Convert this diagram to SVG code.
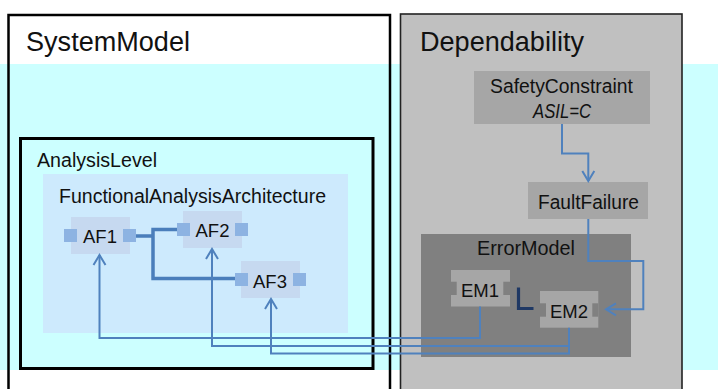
<svg xmlns="http://www.w3.org/2000/svg" width="718" height="389" viewBox="0 0 718 389">
<defs>
<style>
text{font-family:"Liberation Sans",Arial,sans-serif;fill:#111;}
.title{font-size:27.5px;}
.lbl{font-size:19.5px;}
.node{font-size:18.5px;text-anchor:middle;}
.af{fill:#c6d9f0;}
.port{fill:#8db3e2;}
.em{fill:#a6a6a6;}
.notch{fill:#808080;}
.conn{fill:none;stroke:#4f81bd;stroke-width:2;}
.thick{fill:none;stroke:#4a7ebb;stroke-width:3.5;}
.navy{fill:none;stroke:#1f3864;stroke-width:3.2;}
</style>
<marker id="arr" markerUnits="userSpaceOnUse" markerWidth="24" markerHeight="24" viewBox="-12 -12 24 24" refX="0" refY="0" orient="auto">
<path d="M-10,-6 L0,0 L-10,6" fill="none" stroke="#4f81bd" stroke-width="2"/>
</marker>
</defs>
<rect x="0" y="0" width="718" height="389" fill="#ffffff"/>
<rect x="0" y="64" width="718" height="306" fill="#ccffff"/>

<g id="SystemModel">
<rect x="8.5" y="15" width="381.5" height="390" fill="none" stroke="#000" stroke-width="2.5"/>
<text class="title" x="26" y="51" textLength="164" lengthAdjust="spacingAndGlyphs">SystemModel</text>
</g>

<g id="AnalysisLevel">
<rect x="20.5" y="138.5" width="352.5" height="230" fill="#ccffff" stroke="#000" stroke-width="3"/>
<text class="lbl" x="37" y="166.5" textLength="120" lengthAdjust="spacingAndGlyphs">AnalysisLevel</text>
</g>

<g id="FunctionalAnalysisArchitecture">
<rect x="43" y="174" width="305" height="159" fill="#cdeafd"/>
<text class="lbl" x="59" y="202.5" textLength="267" lengthAdjust="spacingAndGlyphs">FunctionalAnalysisArchitecture</text>
</g>

<g id="AF1">
<rect class="af" x="71" y="217" width="59" height="37"/>
<rect class="port" x="64" y="229" width="13" height="13"/>
<rect class="port" x="123" y="229" width="13" height="13"/>
<text class="node" x="100" y="243.3">AF1</text>
</g>

<g id="AF2">
<rect class="af" x="183" y="211" width="59" height="37"/>
<rect class="port" x="177" y="223" width="13" height="13"/>
<rect class="port" x="235" y="223" width="13" height="13"/>
<text class="node" x="212.5" y="237.3">AF2</text>
</g>

<g id="AF3">
<rect class="af" x="241" y="261" width="59" height="37"/>
<rect class="port" x="235" y="273" width="13" height="13"/>
<rect class="port" x="293" y="273" width="13" height="13"/>
<text class="node" x="270" y="287.7">AF3</text>
</g>

<g id="Dependability">
<rect x="400.5" y="14" width="281.5" height="390" fill="#c0c0c0" stroke="#222" stroke-width="1.6"/>
<text class="title" x="420" y="50.7" textLength="164" lengthAdjust="spacingAndGlyphs">Dependability</text>
</g>

<g id="SafetyConstraint">
<rect x="474" y="71" width="176" height="53" fill="#a6a6a6"/>
<text class="lbl" x="561.5" y="92.7" text-anchor="middle" textLength="143" lengthAdjust="spacingAndGlyphs">SafetyConstraint</text>
<text class="lbl" x="562" y="118.3" text-anchor="middle" font-style="italic" textLength="58" lengthAdjust="spacingAndGlyphs">ASIL=C</text>
</g>

<g id="FaultFailure">
<rect x="528" y="182" width="120" height="37" fill="#a6a6a6"/>
<text class="lbl" x="588.5" y="209.3" text-anchor="middle" textLength="101" lengthAdjust="spacingAndGlyphs">FaultFailure</text>
</g>

<g id="ErrorModel">
<rect x="421" y="234" width="210" height="123" fill="#808080"/>
<text class="lbl" x="526" y="255" text-anchor="middle" textLength="98" lengthAdjust="spacingAndGlyphs">ErrorModel</text>
</g>

<g id="EM1">
<rect class="em" x="451" y="270" width="59" height="36.5"/>
<rect class="notch" x="451" y="281.7" width="5.7" height="13.3"/>
<rect class="notch" x="503.3" y="281.7" width="6.7" height="13.3"/>
<text class="node" x="480" y="296.7">EM1</text>
</g>

<g id="EM2">
<rect class="em" x="540" y="291" width="58.3" height="36.7"/>
<rect class="notch" x="540" y="303.3" width="6" height="13.4"/>
<rect class="notch" x="592.3" y="303.3" width="6" height="13.4"/>
<text class="node" x="569" y="317.7">EM2</text>
</g>

<g id="connectors">
<path class="thick" d="M136,236 H153 M153,229.5 V278.5 M151.3,229.5 H177 M151.3,278.5 H235"/>
<path class="navy" d="M518.5,287.5 V308.5 H533.5"/>
<path class="conn" d="M562,124 V153.5 H588.3 V181" marker-end="url(#arr)"/>
<path class="conn" d="M588.3,219 V261 H643.3 V309.3 H606" marker-end="url(#arr)"/>
<path class="conn" d="M480,306.5 V338 H99.5 V255" marker-end="url(#arr)"/>
<path class="conn" d="M569,327.7 V346 H212 V249" marker-end="url(#arr)"/>
<path class="conn" d="M569,346 V353.5 H271 V299" marker-end="url(#arr)"/>
</g>
</svg>
